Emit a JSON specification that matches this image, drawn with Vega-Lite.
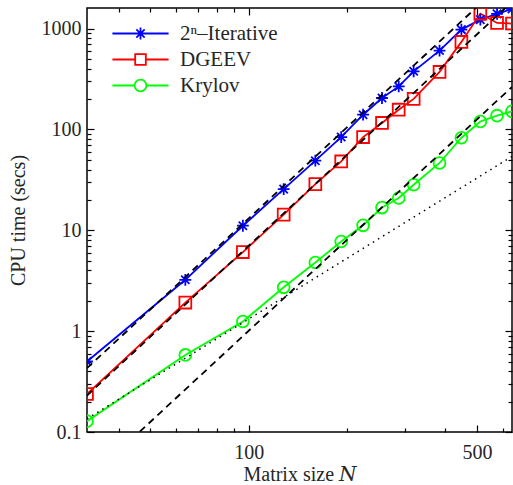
{
  "$schema": "https://vega.github.io/schema/vega-lite/v6.json",
  "autosize": {"type": "none"},
  "padding": {"left": 87, "top": 8, "right": 1, "bottom": 53},
  "width": 425,
  "height": 424,
  "config": {
    "view": {"stroke": "#000000", "strokeWidth": 1.5},
    "axis": {"domain": false, "grid": false, "tickColor": "#000000", "tickWidth": 1.2, "labelFont": "Liberation Serif", "labelFontSize": 20, "labelColor": "#262626", "titleFont": "Liberation Serif, DejaVu Serif", "titleFontSize": 20, "titleFontWeight": "normal", "titleColor": "#262626"}
  },
  "datasets": {
    "timing": [
      {"N": 32, "series": "2ⁿ–Iterative", "time": 0.50},
      {"N": 64, "series": "2ⁿ–Iterative", "time": 3.23},
      {"N": 96, "series": "2ⁿ–Iterative", "time": 11.1},
      {"N": 128, "series": "2ⁿ–Iterative", "time": 25.6},
      {"N": 160, "series": "2ⁿ–Iterative", "time": 49},
      {"N": 192, "series": "2ⁿ–Iterative", "time": 84},
      {"N": 224, "series": "2ⁿ–Iterative", "time": 140},
      {"N": 256, "series": "2ⁿ–Iterative", "time": 205},
      {"N": 288, "series": "2ⁿ–Iterative", "time": 267},
      {"N": 320, "series": "2ⁿ–Iterative", "time": 377},
      {"N": 384, "series": "2ⁿ–Iterative", "time": 605},
      {"N": 448, "series": "2ⁿ–Iterative", "time": 977},
      {"N": 512, "series": "2ⁿ–Iterative", "time": 1227},
      {"N": 576, "series": "2ⁿ–Iterative", "time": 1400},
      {"N": 640, "series": "2ⁿ–Iterative", "time": 1567},
      {"N": 32, "series": "DGEEV", "time": 0.238},
      {"N": 64, "series": "DGEEV", "time": 1.92},
      {"N": 96, "series": "DGEEV", "time": 6.08},
      {"N": 128, "series": "DGEEV", "time": 14.3},
      {"N": 160, "series": "DGEEV", "time": 28.7},
      {"N": 192, "series": "DGEEV", "time": 48.2},
      {"N": 224, "series": "DGEEV", "time": 84},
      {"N": 256, "series": "DGEEV", "time": 116},
      {"N": 288, "series": "DGEEV", "time": 157},
      {"N": 320, "series": "DGEEV", "time": 201},
      {"N": 384, "series": "DGEEV", "time": 372},
      {"N": 448, "series": "DGEEV", "time": 738},
      {"N": 512, "series": "DGEEV", "time": 1409},
      {"N": 576, "series": "DGEEV", "time": 1138},
      {"N": 640, "series": "DGEEV", "time": 1122},
      {"N": 32, "series": "Krylov", "time": 0.128},
      {"N": 64, "series": "Krylov", "time": 0.581},
      {"N": 96, "series": "Krylov", "time": 1.245},
      {"N": 128, "series": "Krylov", "time": 2.72},
      {"N": 160, "series": "Krylov", "time": 4.79},
      {"N": 192, "series": "Krylov", "time": 7.74},
      {"N": 224, "series": "Krylov", "time": 11.2},
      {"N": 256, "series": "Krylov", "time": 16.8},
      {"N": 288, "series": "Krylov", "time": 20.9},
      {"N": 320, "series": "Krylov", "time": 28.3},
      {"N": 384, "series": "Krylov", "time": 46.5},
      {"N": 448, "series": "Krylov", "time": 82.8},
      {"N": 512, "series": "Krylov", "time": 120},
      {"N": 576, "series": "Krylov", "time": 137},
      {"N": 640, "series": "Krylov", "time": 151}
    ],
    "refs": [
      {"N": 32, "ref": "cubic1", "style": "dashed", "time": 0.43},
      {"N": 640, "ref": "cubic1", "style": "dashed", "time": 3440},
      {"N": 32, "ref": "cubic2", "style": "dashed", "time": 0.23},
      {"N": 640, "ref": "cubic2", "style": "dashed", "time": 1840},
      {"N": 32, "ref": "cubic3", "style": "dashed", "time": 0.033},
      {"N": 640, "ref": "cubic3", "style": "dashed", "time": 264},
      {"N": 32, "ref": "quad", "style": "dotted", "time": 0.135},
      {"N": 640, "ref": "quad", "style": "dotted", "time": 54}
    ]
  },
  "resolve": {"scale": {"color": "independent", "shape": "independent"}, "axis": {"x": "independent", "y": "independent"}},
  "layer": [
    {
      "data": {"name": "timing"},
      "mark": {"type": "line", "strokeWidth": 1.8, "clip": true},
      "encoding": {
        "x": {"field": "N", "type": "quantitative", "scale": {"type": "log", "domain": [32, 640], "nice": false},
          "axis": {"orient": "bottom", "values": [100, 500], "format": "d", "tickSize": 7, "offset": -7, "labelPadding": 10, "title": "Matrix size 𝑁", "titlePadding": 2}},
        "y": {"field": "time", "type": "quantitative", "scale": {"type": "log", "domain": [0.1, 1600], "nice": false},
          "axis": {"orient": "left", "values": [0.1, 1, 10, 100, 1000], "format": "~g", "tickSize": 7, "offset": -7, "labelPadding": 6, "title": "CPU time (secs)", "titlePadding": 13}},
        "color": {"field": "series", "type": "nominal", "scale": {"domain": ["2ⁿ–Iterative", "DGEEV", "Krylov"], "range": ["#0000FF", "#FF0000", "#00FF00"]}, "legend": null}
      }
    },
    {
      "data": {"name": "timing"},
      "mark": {"type": "point", "filled": false, "strokeWidth": 1.8, "size": 140, "opacity": 1, "clip": true},
      "encoding": {
        "x": {"field": "N", "type": "quantitative", "scale": {"type": "log", "domain": [32, 640], "nice": false},
          "axis": {"orient": "bottom", "values": [40, 50, 60, 70, 80, 90, 200, 300, 400, 600], "labels": false, "tickSize": 4, "offset": -4, "title": null}},
        "y": {"field": "time", "type": "quantitative", "scale": {"type": "log", "domain": [0.1, 1600], "nice": false},
          "axis": {"orient": "left", "values": [0.2, 0.3, 0.4, 0.5, 0.6, 0.7, 0.8, 0.9, 2, 3, 4, 5, 6, 7, 8, 9, 20, 30, 40, 50, 60, 70, 80, 90, 200, 300, 400, 500, 600, 700, 800, 900], "labels": false, "tickSize": 4, "offset": -4, "title": null}},
        "color": {"field": "series", "type": "nominal", "scale": {"domain": ["2ⁿ–Iterative", "DGEEV", "Krylov"], "range": ["#0000FF", "#FF0000", "#00FF00"]}, "legend": null},
        "shape": {"field": "series", "type": "nominal", "scale": {"domain": ["2ⁿ–Iterative", "DGEEV", "Krylov"], "range": ["M-1,0L1,0M0,-1L0,1M-0.7,-0.7L0.7,0.7M-0.7,0.7L0.7,-0.7", "square", "circle"]}, "legend": null}
      }
    },
    {
      "data": {"name": "timing"},
      "mark": {"type": "point", "filled": false, "strokeWidth": 1.8, "size": 140, "opacity": 0},
      "encoding": {
        "x": {"field": "N", "type": "quantitative", "scale": {"type": "log", "domain": [32, 640], "nice": false},
          "axis": {"orient": "top", "values": [100, 500], "labels": false, "tickSize": 7, "offset": -7, "title": null}},
        "y": {"field": "time", "type": "quantitative", "scale": {"type": "log", "domain": [0.1, 1600], "nice": false},
          "axis": {"orient": "right", "values": [0.1, 1, 10, 100, 1000], "labels": false, "tickSize": 7, "offset": -7, "title": null}},
        "color": {"field": "series", "type": "nominal", "scale": {"domain": ["2ⁿ–Iterative", "DGEEV", "Krylov"], "range": ["#0000FF", "#FF0000", "#00FF00"]},
          "legend": {"orient": "none", "legendX": 43, "legendY": 15, "title": null, "symbolSize": 140, "symbolStrokeWidth": 1.8, "symbolOpacity": 1, "labelFont": "Liberation Serif", "labelFontSize": 21, "labelColor": "#262626", "labelOffset": 29, "rowPadding": 4, "padding": 0}},
        "shape": {"field": "series", "type": "nominal", "scale": {"domain": ["2ⁿ–Iterative", "DGEEV", "Krylov"], "range": [
          "M-4.75,0L4.75,0M0,-1L0,1M-0.7,-0.7L0.7,0.7M-0.7,0.7L0.7,-0.7",
          "M-4.75,0L-0.9,0M0.9,0L4.75,0M-0.9,-0.9L0.9,-0.9L0.9,0.9L-0.9,0.9Z",
          "M-4.75,0L-1,0M1,0L4.75,0M-1,0A1,1,0,1,1,1,0A1,1,0,1,1,-1,0"]},
          "legend": {"orient": "none", "legendX": 43, "legendY": 15, "title": null, "symbolSize": 140, "symbolStrokeWidth": 1.8, "symbolOpacity": 1, "labelFont": "Liberation Serif", "labelFontSize": 21, "labelColor": "#262626", "labelOffset": 29, "rowPadding": 4, "padding": 0}}
      }
    },
    {
      "data": {"name": "refs"},
      "transform": [{"filter": "datum.style == 'dashed'"}],
      "mark": {"type": "line", "color": "#000000", "strokeWidth": 1.8, "strokeDash": [7, 5], "clip": true},
      "encoding": {
        "x": {"field": "N", "type": "quantitative", "scale": {"type": "log", "domain": [32, 640], "nice": false},
          "axis": {"orient": "top", "values": [40, 50, 60, 70, 80, 90, 200, 300, 400, 600], "labels": false, "tickSize": 4, "offset": -4, "title": null}},
        "y": {"field": "time", "type": "quantitative", "scale": {"type": "log", "domain": [0.1, 1600], "nice": false},
          "axis": {"orient": "right", "values": [0.2, 0.3, 0.4, 0.5, 0.6, 0.7, 0.8, 0.9, 2, 3, 4, 5, 6, 7, 8, 9, 20, 30, 40, 50, 60, 70, 80, 90, 200, 300, 400, 500, 600, 700, 800, 900], "labels": false, "tickSize": 4, "offset": -4, "title": null}},
        "detail": {"field": "ref", "type": "nominal"}
      }
    },
    {
      "data": {"name": "refs"},
      "transform": [{"filter": "datum.style == 'dotted'"}],
      "mark": {"type": "line", "color": "#000000", "strokeWidth": 1.5, "strokeDash": [1.5, 4.5], "clip": true},
      "encoding": {
        "x": {"field": "N", "type": "quantitative", "scale": {"type": "log", "domain": [32, 640], "nice": false}, "axis": null},
        "y": {"field": "time", "type": "quantitative", "scale": {"type": "log", "domain": [0.1, 1600], "nice": false}, "axis": null},
        "detail": {"field": "ref", "type": "nominal"}
      }
    }
  ]
}
